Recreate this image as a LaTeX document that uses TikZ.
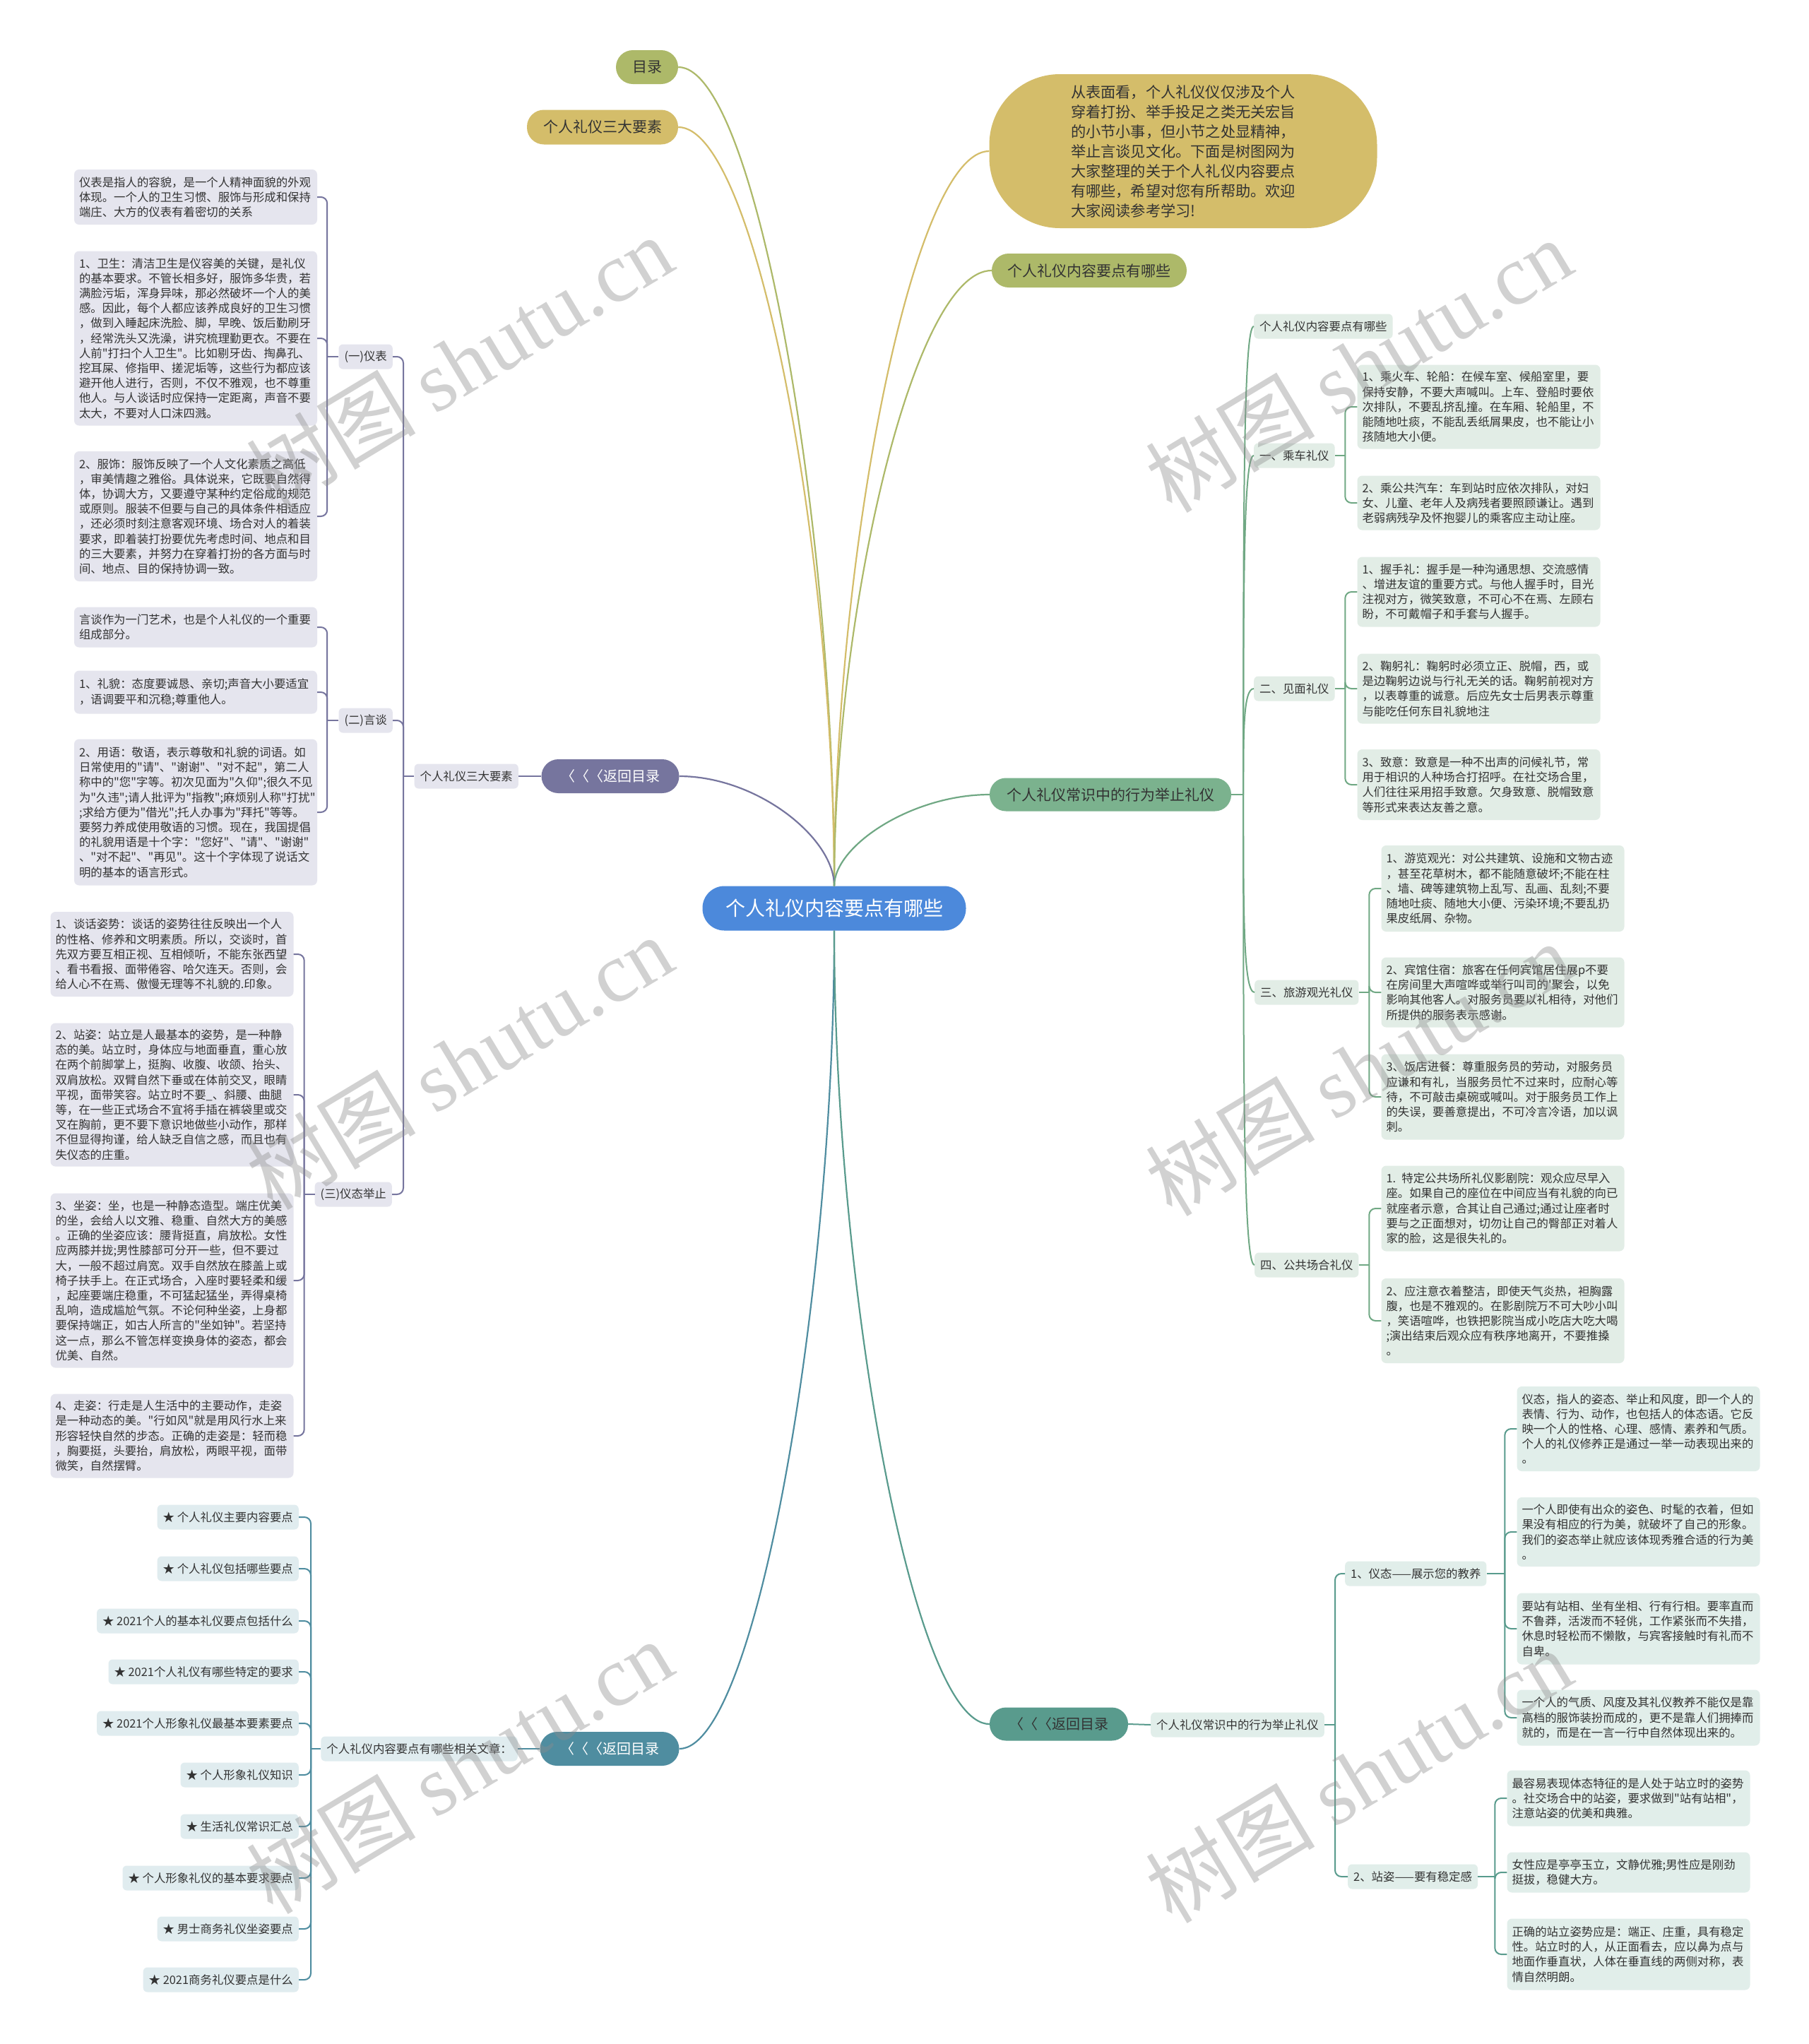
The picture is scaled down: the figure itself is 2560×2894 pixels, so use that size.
\documentclass[tikz,border=0pt]{standalone}
\usepackage{fontspec}
\setmainfont{Noto Sans CJK SC}[Ligatures=TeXOff]
\newfontfamily\wmlatin{Liberation Serif}
\usetikzlibrary{calc}
\definecolor{rootblue}{RGB}{76,137,219}
\definecolor{olivec}{RGB}{173,185,105}
\definecolor{goldc}{RGB}{212,189,106}
\definecolor{purp}{RGB}{118,117,158}
\definecolor{purplight}{RGB}{229,229,238}
\definecolor{grn}{RGB}{123,178,142}
\definecolor{grnline}{RGB}{112,168,132}
\definecolor{grnlight}{RGB}{226,237,230}
\definecolor{tealb}{RGB}{79,141,160}
\definecolor{tealblight}{RGB}{224,236,239}
\definecolor{tealg}{RGB}{89,155,141}
\definecolor{tealglight}{RGB}{225,238,234}
\definecolor{txt}{RGB}{51,51,51}
\newcommand\myfs[2]{\fontsize{#1}{#2}\selectfont}
\newcommand\rootcurve[3]{\draw[curveline,#1] (#2) .. controls ($(#2)!0.44!(#2|-#3)$) and ($(#3)!0.5!(#2|-#3)$) .. (#3);}
\tikzset{
  lbl/.style={rounded corners=6pt, inner xsep=8pt, inner ysep=6pt, minimum height=35pt, font=\myfs{16.4}{21.2}, text=txt},
  tbox/.style={rounded corners=7pt, inner xsep=7pt, inner ysep=7pt, text width=330pt, align=left, font=\myfs{16.4}{21.2}, text=txt},
  pill/.style={inner sep=0pt, align=center, text=txt},
  curveline/.style={line width=2.2pt},
  tree/.style={line width=2pt, rounded corners=9pt},
  wm/.style={rotate=31, text=black!45, text opacity=0.4, font=\myfs{120}{120}}
}
\begin{document}
\begin{tikzpicture}[x=1pt,y=-1pt]
\useasboundingbox (0,0) rectangle (2560,2894);
\fill[white] (0,0) rectangle (2560,2894);

% ---------- main pills ----------
\node[pill, fill=rootblue, text=white, rounded corners=31pt, minimum width=373pt, minimum height=63pt, font=\myfs{28}{32}] (root) at (1181,1286) {个人礼仪内容要点有哪些};
\node[pill, fill=olivec, rounded corners=24pt, minimum width=88pt, minimum height=48pt, font=\myfs{21}{25}] (mulu) at (916,95) {目录};
\node[pill, fill=goldc, rounded corners=24pt, minimum width=214pt, minimum height=49pt, font=\myfs{21}{25}] (sdys) at (853,180) {个人礼仪三大要素};
\node[pill, fill=goldc, rounded corners=100pt, minimum width=549pt, minimum height=218pt, font=\myfs{21.2}{28}, align=left] (desc) at (1675,214) {从表面看，个人礼仪仪仅涉及个人\\穿着打扮、举手投足之类无关宏旨\\的小节小事，但小节之处显精神，\\举止言谈见文化。下面是树图网为\\大家整理的关于个人礼仪内容要点\\有哪些，希望对您有所帮助。欢迎\\大家阅读参考学习!};
\node[pill, fill=olivec, rounded corners=24pt, minimum width=276pt, minimum height=48pt, font=\myfs{21}{25}] (nryd) at (1542,383) {个人礼仪内容要点有哪些};
\node[pill, fill=grn, rounded corners=23pt, minimum width=342pt, minimum height=47pt, font=\myfs{21}{25}] (grnp) at (1572,1125) {个人礼仪常识中的行为举止礼仪};
\node[pill, fill=purp, text=white, rounded corners=24pt, minimum width=195pt, minimum height=48pt, font=\myfs{20}{24}] (fhP) at (864,1099) {〈〈〈返回目录};
\node[pill, fill=tealb, text=white, rounded corners=24pt, minimum width=197pt, minimum height=48pt, font=\myfs{20}{24}] (fhL) at (863,2476) {〈〈〈返回目录};
\node[pill, fill=tealg, rounded corners=23pt, minimum width=196pt, minimum height=47pt, font=\myfs{20}{24}] (fhR) at (1499,2441) {〈〈〈返回目录};

% ---------- left purple tree ----------
\node[lbl, fill=purplight, anchor=east] (sdysL) at (734,1099) {个人礼仪三大要素};
\node[lbl, fill=purplight, anchor=east] (yb) at (556,505) {(一)仪表};
\node[lbl, fill=purplight, anchor=east] (yt) at (556,1020) {(二)言谈};
\node[lbl, fill=purplight, anchor=east] (yz) at (555,1691) {(三)仪态举止};

\node[tbox, fill=purplight, minimum height=78pt] (a1) at (277,279) {仪表是指人的容貌，是一个人精神面貌的外观\\体现。一个人的卫生习惯、服饰与形成和保持\\端庄、大方的仪表有着密切的关系};
\node[tbox, fill=purplight, minimum height=247pt] (a2) at (277,479) {1、卫生：清洁卫生是仪容美的关键，是礼仪\\的基本要求。不管长相多好，服饰多华贵，若\\满脸污垢，浑身异味，那必然破坏一个人的美\\感。因此，每个人都应该养成良好的卫生习惯\\，做到入睡起床洗脸、脚，早晚、饭后勤刷牙\\，经常洗头又洗澡，讲究梳理勤更衣。不要在\\人前"打扫个人卫生"。比如剔牙齿、掏鼻孔、\\挖耳屎、修指甲、搓泥垢等，这些行为都应该\\避开他人进行，否则，不仅不雅观，也不尊重\\他人。与人谈话时应保持一定距离，声音不要\\太大，不要对人口沫四溅。};
\node[tbox, fill=purplight, minimum height=184pt] (a3) at (277,731) {2、服饰：服饰反映了一个人文化素质之高低\\，审美情趣之雅俗。具体说来，它既要自然得\\体，协调大方，又要遵守某种约定俗成的规范\\或原则。服装不但要与自己的具体条件相适应\\，还必须时刻注意客观环境、场合对人的着装\\要求，即着装打扮要优先考虑时间、地点和目\\的三大要素，并努力在穿着打扮的各方面与时\\间、地点、目的保持协调一致。};

\node[tbox, fill=purplight, minimum height=57pt] (c1) at (277,888) {言谈作为一门艺术，也是个人礼仪的一个重要\\组成部分。};
\node[tbox, fill=purplight, minimum height=61pt] (c2) at (277,980) {1、礼貌：态度要诚恳、亲切;声音大小要适宜\\，语调要平和沉稳;尊重他人。};
\node[tbox, fill=purplight, minimum height=207pt] (c3) at (277,1150) {2、用语：敬语，表示尊敬和礼貌的词语。如\\日常使用的"请"、"谢谢"、"对不起"，第二人\\称中的"您"字等。初次见面为"久仰";很久不见\\为"久违";请人批评为"指教";麻烦别人称"打扰"\\;求给方便为"借光";托人办事为"拜托"等等。\\要努力养成使用敬语的习惯。现在，我国提倡\\的礼貌用语是十个字："您好"、"请"、"谢谢"\\、"对不起"、"再见"。这十个字体现了说话文\\明的基本的语言形式。};

\node[tbox, fill=purplight, minimum height=120pt] (d1) at (243.5,1351) {1、谈话姿势：谈话的姿势往往反映出一个人\\的性格、修养和文明素质。所以，交谈时，首\\先双方要互相正视、互相倾听，不能东张西望\\、看书看报、面带倦容、哈欠连天。否则，会\\给人心不在焉、傲慢无理等不礼貌的.印象。};
\node[tbox, fill=purplight, minimum height=203pt] (d2) at (243.5,1550) {2、站姿：站立是人最基本的姿势，是一种静\\态的美。站立时，身体应与地面垂直，重心放\\在两个前脚掌上，挺胸、收腹、收颌、抬头、\\双肩放松。双臂自然下垂或在体前交叉，眼睛\\平视，面带笑容。站立时不要\_、斜腰、曲腿\\等，在一些正式场合不宜将手插在裤袋里或交\\叉在胸前，更不要下意识地做些小动作，那样\\不但显得拘谨，给人缺乏自信之感，而且也有\\失仪态的庄重。};
\node[tbox, fill=purplight, minimum height=247pt] (d3) at (243.5,1813) {3、坐姿：坐，也是一种静态造型。端庄优美\\的坐，会给人以文雅、稳重、自然大方的美感\\。正确的坐姿应该：腰背挺直，肩放松。女性\\应两膝并拢;男性膝部可分开一些，但不要过\\大，一般不超过肩宽。双手自然放在膝盖上或\\椅子扶手上。在正式场合，入座时要轻柔和缓\\，起座要端庄稳重，不可猛起猛坐，弄得桌椅\\乱响，造成尴尬气氛。不论何种坐姿，上身都\\要保持端正，如古人所言的"坐如钟"。若坚持\\这一点，那么不管怎样变换身体的姿态，都会\\优美、自然。};
\node[tbox, fill=purplight, minimum height=119pt] (d4) at (243.5,2033) {4、走姿：行走是人生活中的主要动作，走姿\\是一种动态的美。"行如风"就是用风行水上来\\形容轻快自然的步态。正确的走姿是：轻而稳\\，胸要挺，头要抬，肩放松，两眼平视，面带\\微笑，自然摆臂。};

% ---------- left bottom list ----------
\node[lbl, fill=tealblight, anchor=east] (xgwz) at (733,2476) {个人礼仪内容要点有哪些相关文章：};
\node[lbl, fill=tealblight, anchor=east] (i1) at (423,2148) {★ 个人礼仪主要内容要点};
\node[lbl, fill=tealblight, anchor=east] (i2) at (423,2221) {★ 个人礼仪包括哪些要点};
\node[lbl, fill=tealblight, anchor=east] (i3) at (423,2295) {★ 2021个人的基本礼仪要点包括什么};
\node[lbl, fill=tealblight, anchor=east] (i4) at (423,2367) {★ 2021个人礼仪有哪些特定的要求};
\node[lbl, fill=tealblight, anchor=east] (i5) at (423,2440) {★ 2021个人形象礼仪最基本要素要点};
\node[lbl, fill=tealblight, anchor=east] (i6) at (423,2513) {★ 个人形象礼仪知识};
\node[lbl, fill=tealblight, anchor=east] (i7) at (423,2586) {★ 生活礼仪常识汇总};
\node[lbl, fill=tealblight, anchor=east] (i8) at (423,2659) {★ 个人形象礼仪的基本要求要点};
\node[lbl, fill=tealblight, anchor=east] (i9) at (423,2731) {★ 男士商务礼仪坐姿要点};
\node[lbl, fill=tealblight, anchor=east] (i10) at (423,2803) {★ 2021商务礼仪要点是什么};

% ---------- right green tree ----------
\node[lbl, fill=grnlight, anchor=west] (g0) at (1775,462) {个人礼仪内容要点有哪些};
\node[lbl, fill=grnlight, anchor=west] (g1) at (1775,645) {一、乘车礼仪};
\node[lbl, fill=grnlight, anchor=west] (g2) at (1775,975) {二、见面礼仪};
\node[lbl, fill=grnlight, anchor=west] (g3) at (1776,1405) {三、旅游观光礼仪};
\node[lbl, fill=grnlight, anchor=west] (g4) at (1776,1791) {四、公共场合礼仪};

\node[tbox, fill=grnlight, minimum height=119pt] (g1a) at (2093.5,576) {1、乘火车、轮船：在候车室、候船室里，要\\保持安静，不要大声喊叫。上车、登船时要依\\次排队，不要乱挤乱撞。在车厢、轮船里，不\\能随地吐痰，不能乱丢纸屑果皮，也不能让小\\孩随地大小便。};
\node[tbox, fill=grnlight, minimum height=77pt] (g1b) at (2093.5,712) {2、乘公共汽车：车到站时应依次排队，对妇\\女、儿童、老年人及病残者要照顾谦让。遇到\\老弱病残孕及怀抱婴儿的乘客应主动让座。};
\node[tbox, fill=grnlight, minimum height=99pt] (g2a) at (2093.5,838) {1、握手礼：握手是一种沟通思想、交流感情\\、增进友谊的重要方式。与他人握手时，目光\\注视对方，微笑致意，不可心不在焉、左顾右\\盼，不可戴帽子和手套与人握手。};
\node[tbox, fill=grnlight, minimum height=99pt] (g2b) at (2093.5,975) {2、鞠躬礼：鞠躬时必须立正、脱帽，西，或\\是边鞠躬边说与行礼无关的话。鞠躬前视对方\\，以表尊重的诚意。后应先女士后男表示尊重\\与能吃任何东目礼貌地注};
\node[tbox, fill=grnlight, minimum height=100pt] (g2c) at (2093.5,1111) {3、致意：致意是一种不出声的问候礼节，常\\用于相识的人种场合打招呼。在社交场合里，\\人们往往采用招手致意。欠身致意、脱帽致意\\等形式来表达友善之意。};
\node[tbox, fill=grnlight, minimum height=122pt] (g3a) at (2127.5,1258) {1、游览观光：对公共建筑、设施和文物古迹\\，甚至花草树木，都不能随意破坏;不能在柱\\、墙、碑等建筑物上乱写、乱画、乱刻;不要\\随地吐痰、随地大小便、污染环境;不要乱扔\\果皮纸屑、杂物。};
\node[tbox, fill=grnlight, minimum height=99pt] (g3b) at (2127.5,1405) {2、宾馆住宿：旅客在任何宾馆居住展p不要\\在房间里大声喧哗或举行叫司的'聚会，以免\\影响其他客人。对服务员要以礼相待，对他们\\所提供的服务表示感谢。};
\node[tbox, fill=grnlight, minimum height=121pt] (g3c) at (2127.5,1553) {3、饭店进餐：尊重服务员的劳动，对服务员\\应谦和有礼，当服务员忙不过来时，应耐心等\\待，不可敲击桌碗或喊叫。对于服务员工作上\\的失误，要善意提出，不可冷言冷语，加以讽\\刺。};
\node[tbox, fill=grnlight, minimum height=121pt] (g4a) at (2127.5,1711) {1. 特定公共场所礼仪影剧院：观众应尽早入\\座。如果自己的座位在中间应当有礼貌的向已\\就座者示意，合其让自己通过;通过让座者时\\要与之正面想对，切勿让自己的臀部正对着人\\家的脸，这是很失礼的。};
\node[tbox, fill=grnlight, minimum height=120pt] (g4b) at (2127.5,1870) {2、应注意衣着整洁，即使天气炎热，袒胸露\\腹，也是不雅观的。在影剧院万不可大吵小叫\\，笑语喧哗，也铁把影院当成小吃店大吃大喝\\;演出结束后观众应有秩序地离开，不要推搡\\。};

% ---------- right bottom tree ----------
\node[lbl, fill=tealglight, anchor=west] (h0) at (1629,2442) {个人礼仪常识中的行为举止礼仪};
\node[lbl, fill=tealglight, anchor=west] (h1) at (1904,2228) {1、仪态——展示您的教养};
\node[lbl, fill=tealglight, anchor=west] (h2) at (1908,2657) {2、站姿——要有稳定感};
\node[tbox, fill=tealglight, minimum height=120pt] (e1) at (2319.5,2023) {仪态，指人的姿态、举止和风度，即一个人的\\表情、行为、动作，也包括人的体态语。它反\\映一个人的性格、心理、感情、素养和气质。\\个人的礼仪修养正是通过一举一动表现出来的\\。};
\node[tbox, fill=tealglight, minimum height=98pt] (e2) at (2319.5,2169) {一个人即使有出众的姿色、时髦的衣着，但如\\果没有相应的行为美，就破坏了自己的形象。\\我们的姿态举止就应该体现秀雅合适的行为美\\。};
\node[tbox, fill=tealglight, minimum height=101pt] (e3) at (2319.5,2306) {要站有站相、坐有坐相、行有行相。要率直而\\不鲁莽，活泼而不轻佻，工作紧张而不失措，\\休息时轻松而不懒散，与宾客接触时有礼而不\\自卑。};
\node[tbox, fill=tealglight, minimum height=79pt] (e4) at (2319.5,2432) {一个人的气质、风度及其礼仪教养不能仅是靠\\高档的服饰装扮而成的，更不是靠人们拥捧而\\就的，而是在一言一行中自然体现出来的。};
\node[tbox, fill=tealglight, minimum height=79pt] (f1) at (2305.5,2546) {最容易表现体态特征的是人处于站立时的姿势\\。社交场合中的站姿，要求做到"站有站相"，\\注意站姿的优美和典雅。};
\node[tbox, fill=tealglight, minimum height=57pt] (f2) at (2305.5,2651) {女性应是亭亭玉立，文静优雅;男性应是刚劲\\挺拔，稳健大方。};
\node[tbox, fill=tealglight, minimum height=101pt] (f3) at (2305.5,2767) {正确的站立姿势应是：端正、庄重，具有稳定\\性。站立时的人，从正面看去，应以鼻为点与\\地面作垂直状，人体在垂直线的两侧对称，表\\情自然明朗。};

% ---------- connectors from root ----------
\rootcurve{olivec}{root.north}{mulu.east}
\rootcurve{goldc}{root.north}{sdys.east}
\rootcurve{goldc}{root.north}{desc.west}
\rootcurve{olivec}{root.north}{nryd.west}
\rootcurve{purp}{root.north}{fhP.east}
\rootcurve{grnline}{root.north}{grnp.west}
\rootcurve{tealb}{root.south}{fhL.east}
\rootcurve{tealg}{root.south}{fhR.west}

% ---------- left purple tree connectors ----------
\draw[tree, purp] (fhP.west) -- (sdysL.east);
\coordinate (bS) at ($(yb.east|-sdysL.west)+(15,0)$);
\draw[tree, purp] (sdysL.west) -- (bS);
\foreach \c in {yb,yt,yz} \draw[tree, purp] (bS) |- (\c.east);
\coordinate (bY) at ($(a1.east|-yb.west)+(14,0)$);
\draw[tree, purp] (yb.west) -- (bY);
\foreach \c in {a1,a2,a3} \draw[tree, purp] (bY) |- (\c.east);
\coordinate (bT) at ($(c1.east|-yt.west)+(14,0)$);
\draw[tree, purp] (yt.west) -- (bT);
\foreach \c in {c1,c2,c3} \draw[tree, purp] (bT) |- (\c.east);
\coordinate (bZ) at ($(d1.east|-yz.west)+(15,0)$);
\draw[tree, purp] (yz.west) -- (bZ);
\foreach \c in {d1,d2,d3,d4} \draw[tree, purp] (bZ) |- (\c.east);

% ---------- left bottom list connectors ----------
\draw[tree, tealb] (fhL.west) -- (xgwz.east);
\coordinate (bL) at ($(i1.east|-xgwz.west)+(17,0)$);
\draw[tree, tealb] (xgwz.west) -- (bL);
\foreach \c in {i1,i2,i3,i4,i5,i6,i7,i8,i9,i10} \draw[tree, tealb] (bL) |- (\c.east);

% ---------- right green connectors ----------
\coordinate (gj) at ($(grnp.east)+(17,0)$);
\draw[line width=2pt, grnline] (grnp.east) -- (gj);
\foreach \c in {g0,g1,g2,g3,g4} \draw[line width=2pt, grnline] (gj) .. controls ($(gj)!0.6!(gj|-\c.west)$) and (gj|-\c.west) .. (\c.west);
\coordinate (bG1) at ($(g1a.west|-g1.east)+(-17,0)$);
\draw[tree, grnline] (g1.east) -- (bG1);
\foreach \c in {g1a,g1b} \draw[tree, grnline] (bG1) |- (\c.west);
\coordinate (bG2) at ($(g2a.west|-g2.east)+(-17,0)$);
\draw[tree, grnline] (g2.east) -- (bG2);
\foreach \c in {g2a,g2b,g2c} \draw[tree, grnline] (bG2) |- (\c.west);
\coordinate (bG3) at ($(g3a.west|-g3.east)+(-17,0)$);
\draw[tree, grnline] (g3.east) -- (bG3);
\foreach \c in {g3a,g3b,g3c} \draw[tree, grnline] (bG3) |- (\c.west);
\coordinate (bG4) at ($(g4a.west|-g4.east)+(-17,0)$);
\draw[tree, grnline] (g4.east) -- (bG4);
\foreach \c in {g4a,g4b} \draw[tree, grnline] (bG4) |- (\c.west);

% ---------- right bottom connectors ----------
\draw[tree, tealg] (fhR.east) -- (h0.west);
\coordinate (bH0) at ($(h1.west|-h0.east)+(-14,0)$);
\draw[tree, tealg] (h0.east) -- (bH0);
\foreach \c in {h1,h2} \draw[tree, tealg] (bH0) |- (\c.west);
\coordinate (bH1) at ($(e1.west|-h1.east)+(-17,0)$);
\draw[tree, tealg] (h1.east) -- (bH1);
\foreach \c in {e1,e2,e3,e4} \draw[tree, tealg] (bH1) |- (\c.west);
\coordinate (bH2) at ($(f1.west|-h2.east)+(-17,0)$);
\draw[tree, tealg] (h2.east) -- (bH2);
\foreach \c in {f1,f2,f3} \draw[tree, tealg] (bH2) |- (\c.west);

% ---------- watermarks ----------
\node[wm] (wm1) at (650,513) {树图 {\wmlatin shutu.cn}};
\node[wm] (wm2) at (650,1504) {树图 {\wmlatin shutu.cn}};
\node[wm] (wm3) at (650,2501) {树图 {\wmlatin shutu.cn}};
\node[wm] (wm4) at (1923,517) {树图 {\wmlatin shutu.cn}};
\node[wm] (wm5) at (1923,1513) {树图 {\wmlatin shutu.cn}};
\node[wm] (wm6) at (1923,2514) {树图 {\wmlatin shutu.cn}};
\end{tikzpicture}
\end{document}
